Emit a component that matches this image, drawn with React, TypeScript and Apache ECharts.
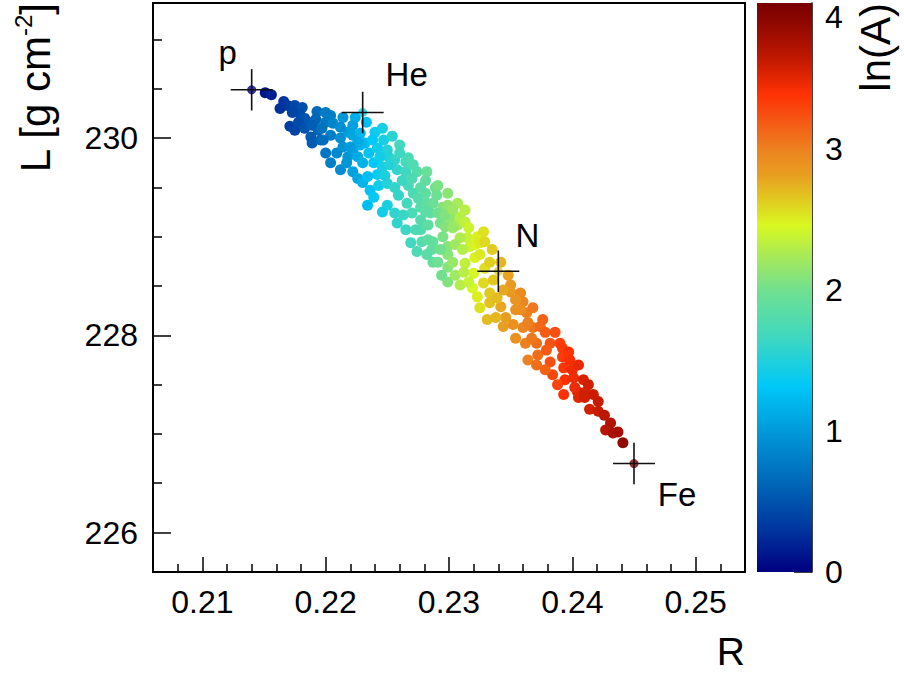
import React, { useEffect, useRef } from "react";
import * as echarts from "echarts";

// ---- scatter data (R, L, lnA) ----
const R = [
  0.2151, 0.2156, 0.2166, 0.2169, 0.2175, 0.2181, 0.2179, 0.2171, 0.2175, 0.2183,
  0.2186, 0.2193, 0.2192, 0.2194, 0.2188, 0.2189, 0.2196, 0.2204, 0.2214, 0.2224,
  0.2200, 0.2206, 0.2204, 0.2198, 0.2212, 0.2218, 0.2222, 0.2228, 0.2240, 0.2246,
  0.2232, 0.2214, 0.2209, 0.2200, 0.2204, 0.2212, 0.2218, 0.2222, 0.2226, 0.2235,
  0.2239, 0.2230, 0.2222, 0.2226, 0.2230, 0.2236, 0.2234, 0.2243, 0.2242, 0.2246,
  0.2250, 0.2251, 0.2260, 0.2256, 0.2258, 0.2265, 0.2265, 0.2267, 0.2274, 0.2282,
  0.2250, 0.2256, 0.2250, 0.2246, 0.2256, 0.2258, 0.2265, 0.2269, 0.2267, 0.2271,
  0.2266, 0.2270, 0.2277, 0.2282, 0.2281, 0.2277, 0.2289, 0.2291, 0.2287, 0.2285,
  0.2277, 0.2277, 0.2278, 0.2274, 0.2287, 0.2286, 0.2287, 0.2295, 0.2299, 0.2307,
  0.2293, 0.2297, 0.2301, 0.2295, 0.2299, 0.2307, 0.2309, 0.2313, 0.2316, 0.2315,
  0.2309, 0.2317, 0.2321, 0.2323, 0.2325, 0.2329, 0.2299, 0.2299, 0.2299, 0.2309,
  0.2313, 0.2321, 0.2320, 0.2319, 0.2323, 0.2328, 0.2333, 0.2333, 0.2331, 0.2342,
  0.2350, 0.2348, 0.2350, 0.2358, 0.2360, 0.2354, 0.2363, 0.2368, 0.2346, 0.2344,
  0.2352, 0.2360, 0.2354, 0.2362, 0.2368, 0.2374, 0.2378, 0.2371, 0.2382, 0.2390,
  0.2392, 0.2364, 0.2372, 0.2371, 0.2382, 0.2384, 0.2392, 0.2398, 0.2393, 0.2400,
  0.2394, 0.2401, 0.2409, 0.2393, 0.2404, 0.2405, 0.2410, 0.2410, 0.2421, 0.2414,
  0.2421, 0.2431, 0.2427, 0.2433, 0.2441,
  0.2222, 0.2233, 0.2238, 0.2228, 0.2217, 0.2247, 0.2254, 0.2244, 0.2252, 0.2248,
  0.2239, 0.2259, 0.2262, 0.2263, 0.2260, 0.2271, 0.2270, 0.2275, 0.2281, 0.2283,
  0.2281, 0.2290, 0.2273, 0.2283, 0.2282, 0.2293, 0.2291, 0.2294, 0.2303, 0.2305,
  0.2303, 0.2305, 0.2291, 0.2297, 0.2303, 0.2313, 0.2299, 0.2311, 0.2312, 0.2316,
  0.2325, 0.2329, 0.2333, 0.2336, 0.2328, 0.2335, 0.2339, 0.2338, 0.2325, 0.2344,
  0.2342, 0.2354, 0.2358, 0.2364, 0.2367, 0.2376, 0.2379, 0.2386, 0.2378, 0.2388,
  0.2397, 0.2405, 0.2402, 0.2413, 0.2417, 0.2426, 0.2437, 0.2163, 0.2173, 0.2178,
  0.2183, 0.2189, 0.2197, 0.2200, 0.2226, 0.2242, 0.2234, 0.2212, 0.2220,
];
const L = [
  230.46, 230.44, 230.37, 230.33, 230.33, 230.31, 230.25, 230.12, 230.08, 230.20,
  230.16, 230.27, 230.19, 230.08, 230.01, 229.95, 229.98, 230.23, 230.21, 230.21,
  230.16, 230.15, 230.03, 229.98, 230.00, 230.06, 230.03, 230.05, 230.06, 230.10,
  229.95, 229.91, 229.85, 229.85, 229.75, 229.68, 229.81, 229.88, 229.81, 229.85,
  229.75, 229.75, 229.66, 229.59, 229.55, 229.47, 229.32, 229.52, 229.63, 229.71,
  229.88, 229.81, 229.93, 229.78, 229.68, 229.66, 229.76, 229.80, 229.66, 229.66,
  229.54, 229.50, 229.32, 229.25, 229.24, 229.14, 229.07, 228.94, 229.52, 229.44,
  229.34, 229.24, 229.30, 229.34, 229.44, 229.50, 229.50, 229.52, 229.34, 229.24,
  229.17, 229.07, 228.95, 228.85, 228.95, 228.87, 228.74, 229.30, 229.32, 229.34,
  229.14, 229.10, 229.19, 229.00, 228.90, 229.12, 229.20, 229.15, 229.09, 228.99,
  228.99, 228.90, 228.92, 229.00, 228.94, 228.95, 228.82, 228.69, 228.54, 228.51,
  228.73, 228.79, 228.63, 228.48, 228.39, 228.53, 228.43, 228.33, 228.16, 228.29,
  228.44, 228.61, 228.51, 228.43, 228.34, 228.26, 228.23, 228.28, 228.18, 228.09,
  228.11, 228.08, 227.97, 227.92, 228.08, 228.09, 228.03, 227.92, 227.92, 227.92,
  227.87, 227.75, 227.80, 227.70, 227.73, 227.60, 227.78, 227.75, 227.67, 227.65,
  227.55, 227.57, 227.55, 227.40, 227.43, 227.37, 227.42, 227.37, 227.33, 227.25,
  227.23, 227.11, 227.04, 227.01, 226.91,
  230.13, 230.16, 229.98, 229.93, 229.75, 229.98, 230.02, 229.81, 229.73, 229.62,
  229.40, 229.42, 229.57, 229.22, 229.85, 229.73, 229.59, 229.39, 229.57, 229.12,
  229.25, 229.42, 229.07, 228.97, 228.82, 228.87, 228.74, 228.61, 229.09, 228.92,
  228.74, 228.61, 229.24, 229.22, 229.27, 229.27, 229.44, 228.87, 228.64, 228.54,
  228.82, 228.68, 228.74, 228.56, 229.05, 228.87, 228.38, 228.18, 228.28, 228.46,
  228.74, 228.36, 228.26, 228.13, 227.97, 228.16, 227.85, 228.03, 227.65, 227.50,
  227.83, 227.70, 227.47, 227.50, 227.40, 227.19, 227.02, 230.30, 230.26, 230.16,
  230.10, 230.13, 230.10, 230.26, 229.96, 229.90, 229.61, 230.11, 229.91,
];
const lnA = [
  0.12, 0.18, 0.30, 0.33, 0.42, 0.48, 0.45, 0.36, 0.40, 0.50,
  0.53, 0.66, 0.62, 0.62, 0.55, 0.56, 0.64, 0.82, 0.98, 1.15,
  0.76, 0.85, 0.80, 0.70, 0.92, 1.02, 1.08, 1.18, 1.38, 1.45,
  1.22, 0.95, 0.88, 0.75, 0.80, 0.90, 0.98, 1.05, 1.12, 1.28,
  1.32, 1.18, 1.05, 1.10, 1.18, 1.28, 1.25, 1.40, 1.38, 1.45,
  1.52, 1.52, 1.70, 1.60, 1.60, 1.68, 1.70, 1.75, 1.82, 1.95,
  1.52, 1.60, 1.48, 1.42, 1.58, 1.58, 1.65, 1.68, 1.72, 1.76,
  1.70, 1.74, 1.82, 1.90, 1.90, 1.85, 2.00, 2.05, 1.95, 1.90,
  1.80, 1.80, 1.80, 1.75, 1.92, 1.90, 1.92, 2.08, 2.15, 2.25,
  2.02, 2.08, 2.15, 2.05, 2.10, 2.25, 2.30, 2.35, 2.40, 2.38,
  2.28, 2.40, 2.48, 2.50, 2.52, 2.58, 2.10, 2.10, 2.08, 2.30,
  2.35, 2.48, 2.45, 2.45, 2.50, 2.58, 2.65, 2.68, 2.70, 2.78,
  2.85, 2.80, 2.85, 2.95, 2.98, 2.90, 3.00, 3.05, 2.82, 2.82,
  2.90, 2.98, 2.92, 3.00, 3.05, 3.12, 3.18, 3.10, 3.22, 3.32,
  3.35, 3.00, 3.10, 3.10, 3.25, 3.28, 3.35, 3.42, 3.38, 3.45,
  3.40, 3.45, 3.55, 3.40, 3.50, 3.52, 3.58, 3.58, 3.62, 3.58,
  3.62, 3.72, 3.70, 3.75, 3.88,
  1.05, 1.25, 1.32, 1.18, 0.98, 1.45, 1.55, 1.42, 1.52, 1.48,
  1.35, 1.60, 1.65, 1.64, 1.66, 1.78, 1.76, 1.82, 1.90, 1.88,
  1.86, 1.98, 1.76, 1.88, 1.85, 2.00, 1.98, 2.00, 2.18, 2.20,
  2.18, 2.20, 2.00, 2.08, 2.20, 2.32, 2.12, 2.30, 2.32, 2.38,
  2.52, 2.56, 2.62, 2.65, 2.55, 2.64, 2.70, 2.72, 2.55, 2.78,
  2.72, 2.88, 2.92, 3.00, 3.05, 3.15, 3.18, 3.25, 3.15, 3.30,
  3.40, 3.48, 3.47, 3.58, 3.60, 3.68, 3.78, 0.28, 0.40, 0.45,
  0.50, 0.58, 0.72, 0.78, 1.12, 1.40, 1.25, 0.92, 1.02,
];

// ---- reference nuclei ----
const refNames = ["p", "He", "N", "Fe"];
const refR = [0.214, 0.223, 0.234, 0.245];
const refL = [230.49, 230.26, 228.65, 226.7];
const refLnA = [0, 1.386, 2.639, 4.025];
const refErrR = [0.0017, 0.0017, 0.0017, 0.0017];
const refErrL = [0.21, 0.21, 0.21, 0.21];

// ---- axes ----
const xMin = 0.206;
const xMax = 0.254;
const yMin = 225.6;
const yMax = 231.37;
const xMajor = [0.21, 0.22, 0.23, 0.24, 0.25];
const xMinor = [
  0.208, 0.212, 0.214, 0.216, 0.218, 0.222, 0.224, 0.226, 0.228, 0.232,
  0.234, 0.236, 0.238, 0.242, 0.244, 0.246, 0.248, 0.252,
];
const yMajor = [226, 228, 230];
const yMinor = [226.5, 227, 227.5, 228.5, 229, 229.5, 230.5, 231];
const cbTicks = [0, 1, 2, 3, 4];
// label anchors of the colour-bar (top label sits just below its tick, as in the source)
const cbLabelPos = [0, 1, 2, 3, 3.94];
const lnAMax = 4.04;

// ---- palette ----
const paletteValues = [0, 0.32, 0.64, 0.99, 1.32, 1.67, 2.0, 2.21, 2.46, 2.62, 2.81, 2.99, 3.24, 3.39, 3.65, 3.89, 4.04];
const paletteColors = [
  "#000080", "#0038a0", "#0068b8", "#0098d8", "#00c8f8", "#40d8c0", "#70e090", "#a0e860",
  "#d8f820", "#e0d020", "#e8a020", "#ec8420", "#f65012", "#ff3204", "#c01800", "#900800", "#780000",
];

function hexToRgb(h: string) {
  return [parseInt(h.slice(1, 3), 16), parseInt(h.slice(3, 5), 16), parseInt(h.slice(5, 7), 16)];
}
function colorAt(v: number) {
  const n = paletteValues.length;
  if (v <= paletteValues[0]) return paletteColors[0];
  if (v >= paletteValues[n - 1]) return paletteColors[n - 1];
  let i = 0;
  while (i < n - 2 && v > paletteValues[i + 1]) i++;
  const t = (v - paletteValues[i]) / (paletteValues[i + 1] - paletteValues[i]);
  const a = hexToRgb(paletteColors[i]);
  const b = hexToRgb(paletteColors[i + 1]);
  const c = a.map((x, k) => Math.round(x + (b[k] - x) * t));
  return `rgb(${c[0]},${c[1]},${c[2]})`;
}

const FONT = "'Liberation Sans', Arial, Helvetica, sans-serif";
const refLabelOffsets = [[-24, -37], [44, -38], [29, -36], [43, 31]];

export default function App() {
  const ref = useRef<HTMLDivElement>(null);
  useEffect(() => {
    const chart = echarts.init(ref.current as HTMLDivElement, undefined, { renderer: "svg" });
    const pts = R.map((r, i) => [r, L[i], lnA[i]]);
    const refPts = refNames.map((n, i) => ({
      name: n,
      value: [refR[i], refL[i], refLnA[i]],
      label: { offset: refLabelOffsets[i] },
    }));
    const crossData = refNames.map((n, i) => [refR[i], refL[i], refErrR[i], refErrL[i]]);
    const gradStops = paletteValues.map((v, i) => ({ offset: v / lnAMax, color: paletteColors[i] }));
    const tickStyle = { color: "#000", width: 1.5 };

    chart.setOption({
      animation: false,
      backgroundColor: "#ffffff",
      grid: [
        { left: 153, right: 159, top: 3, bottom: 107, show: true, borderColor: "#000", borderWidth: 2, backgroundColor: "transparent" },
        { left: 757, right: 92, top: 3, bottom: 107 },
      ],
      xAxis: [
        {
          type: "value", gridIndex: 0, min: xMin, max: xMax, position: "bottom",
          axisLine: { show: false, onZero: false }, splitLine: { show: false },
          axisTick: { show: true, inside: true, length: 15, customValues: xMajor, lineStyle: tickStyle },
          axisLabel: {
            customValues: xMajor, formatter: (v: number) => v.toFixed(2),
            fontSize: 32, color: "#000", fontFamily: FONT, margin: 14,
          },
        },
        {
          type: "value", gridIndex: 0, min: xMin, max: xMax, position: "bottom",
          axisLine: { show: false, onZero: false }, splitLine: { show: false },
          axisLabel: { show: false },
          axisTick: { show: true, inside: true, length: 8, customValues: xMinor, lineStyle: tickStyle },
        },
        { type: "category", gridIndex: 1, data: ["cb"], show: false },
      ],
      yAxis: [
        {
          type: "value", gridIndex: 0, min: yMin, max: yMax, position: "left",
          axisLine: { show: false, onZero: false }, splitLine: { show: false },
          axisTick: { show: true, inside: true, length: 18, customValues: yMajor, lineStyle: tickStyle },
          axisLabel: {
            customValues: yMajor, formatter: (v: number) => String(Math.round(v)),
            fontSize: 32, color: "#000", fontFamily: FONT, margin: 15,
          },
        },
        {
          type: "value", gridIndex: 0, min: yMin, max: yMax, position: "left",
          axisLine: { show: false, onZero: false }, splitLine: { show: false },
          axisLabel: { show: false },
          axisTick: { show: true, inside: true, length: 9, customValues: yMinor, lineStyle: tickStyle },
        },
        {
          type: "value", gridIndex: 1, min: 0, max: lnAMax, position: "right",
          axisLine: { show: true, onZero: false, lineStyle: { color: "#000", width: 1.5 } },
          splitLine: { show: false },
          axisTick: { show: true, inside: true, length: 18, customValues: cbTicks, lineStyle: tickStyle },
          axisLabel: {
            customValues: cbLabelPos,
            formatter: (v: number) => String(Math.round(v)),
            fontSize: 32, color: "#000", fontFamily: FONT, margin: 13,
          },
        },
      ],
      series: [
        {
          type: "bar", xAxisIndex: 2, yAxisIndex: 2, data: [lnAMax], barWidth: "100%", silent: true,
          itemStyle: { color: new echarts.graphic.LinearGradient(0, 1, 0, 0, gradStops) },
        },
        {
          type: "scatter", xAxisIndex: 0, yAxisIndex: 0, data: pts, symbol: "circle", symbolSize: 11, z: 2,
          itemStyle: { color: (p: any) => colorAt(p.value[2]), opacity: 1 },
        },
        {
          type: "scatter", xAxisIndex: 0, yAxisIndex: 0, data: refPts, symbol: "circle", symbolSize: 9, z: 3,
          itemStyle: { color: (p: any) => colorAt(p.value[2]) },
          label: {
            show: true, formatter: "{b}", position: "inside", fontSize: 33, color: "#000",
            fontFamily: FONT, textBorderWidth: 0, textBorderColor: "transparent", opacity: 1,
          },
        },
        {
          type: "custom", xAxisIndex: 0, yAxisIndex: 0, data: crossData, z: 4,
          encode: { x: 0, y: 1 },
          renderItem: (params: any, api: any) => {
            const x = api.value(0);
            const y = api.value(1);
            const ex = api.value(2);
            const ey = api.value(3);
            const l = api.coord([x - ex, y]);
            const r = api.coord([x + ex, y]);
            const t = api.coord([x, y + ey]);
            const b = api.coord([x, y - ey]);
            const st = { stroke: "#111", lineWidth: 1.6 };
            return {
              type: "group",
              children: [
                { type: "line", shape: { x1: l[0], y1: l[1], x2: r[0], y2: r[1] }, style: st },
                { type: "line", shape: { x1: t[0], y1: t[1], x2: b[0], y2: b[1] }, style: st },
              ],
            };
          },
        },
      ],
      graphic: [
        {
          type: "text", x: 745, y: 651,
          style: { text: "R", font: `39px ${FONT}`, fill: "#000", align: "right", verticalAlign: "middle" },
        },
        {
          type: "text", x: 35, y: 3, rotation: Math.PI / 2,
          style: {
            text: "{a|L [g cm}{s|-2}{a|]}", fill: "#000", align: "right", verticalAlign: "middle",
            rich: {
              a: { fontSize: 42, fontFamily: FONT, fill: "#000", lineHeight: 48 },
              s: { fontSize: 24, fontFamily: FONT, fill: "#000", verticalAlign: "top", lineHeight: 48 },
            },
          },
        },
        {
          type: "text", x: 875, y: 3, rotation: Math.PI / 2,
          style: { text: "ln(A)", font: `42px ${FONT}`, fill: "#000", align: "right", verticalAlign: "middle" },
        },
      ],
    });
    return () => chart.dispose();
  }, []);
  return (
    <div
      ref={ref}
      style={{ position: "fixed", left: 0, top: 0, width: 904, height: 679, background: "#fff" }}
    />
  );
}
